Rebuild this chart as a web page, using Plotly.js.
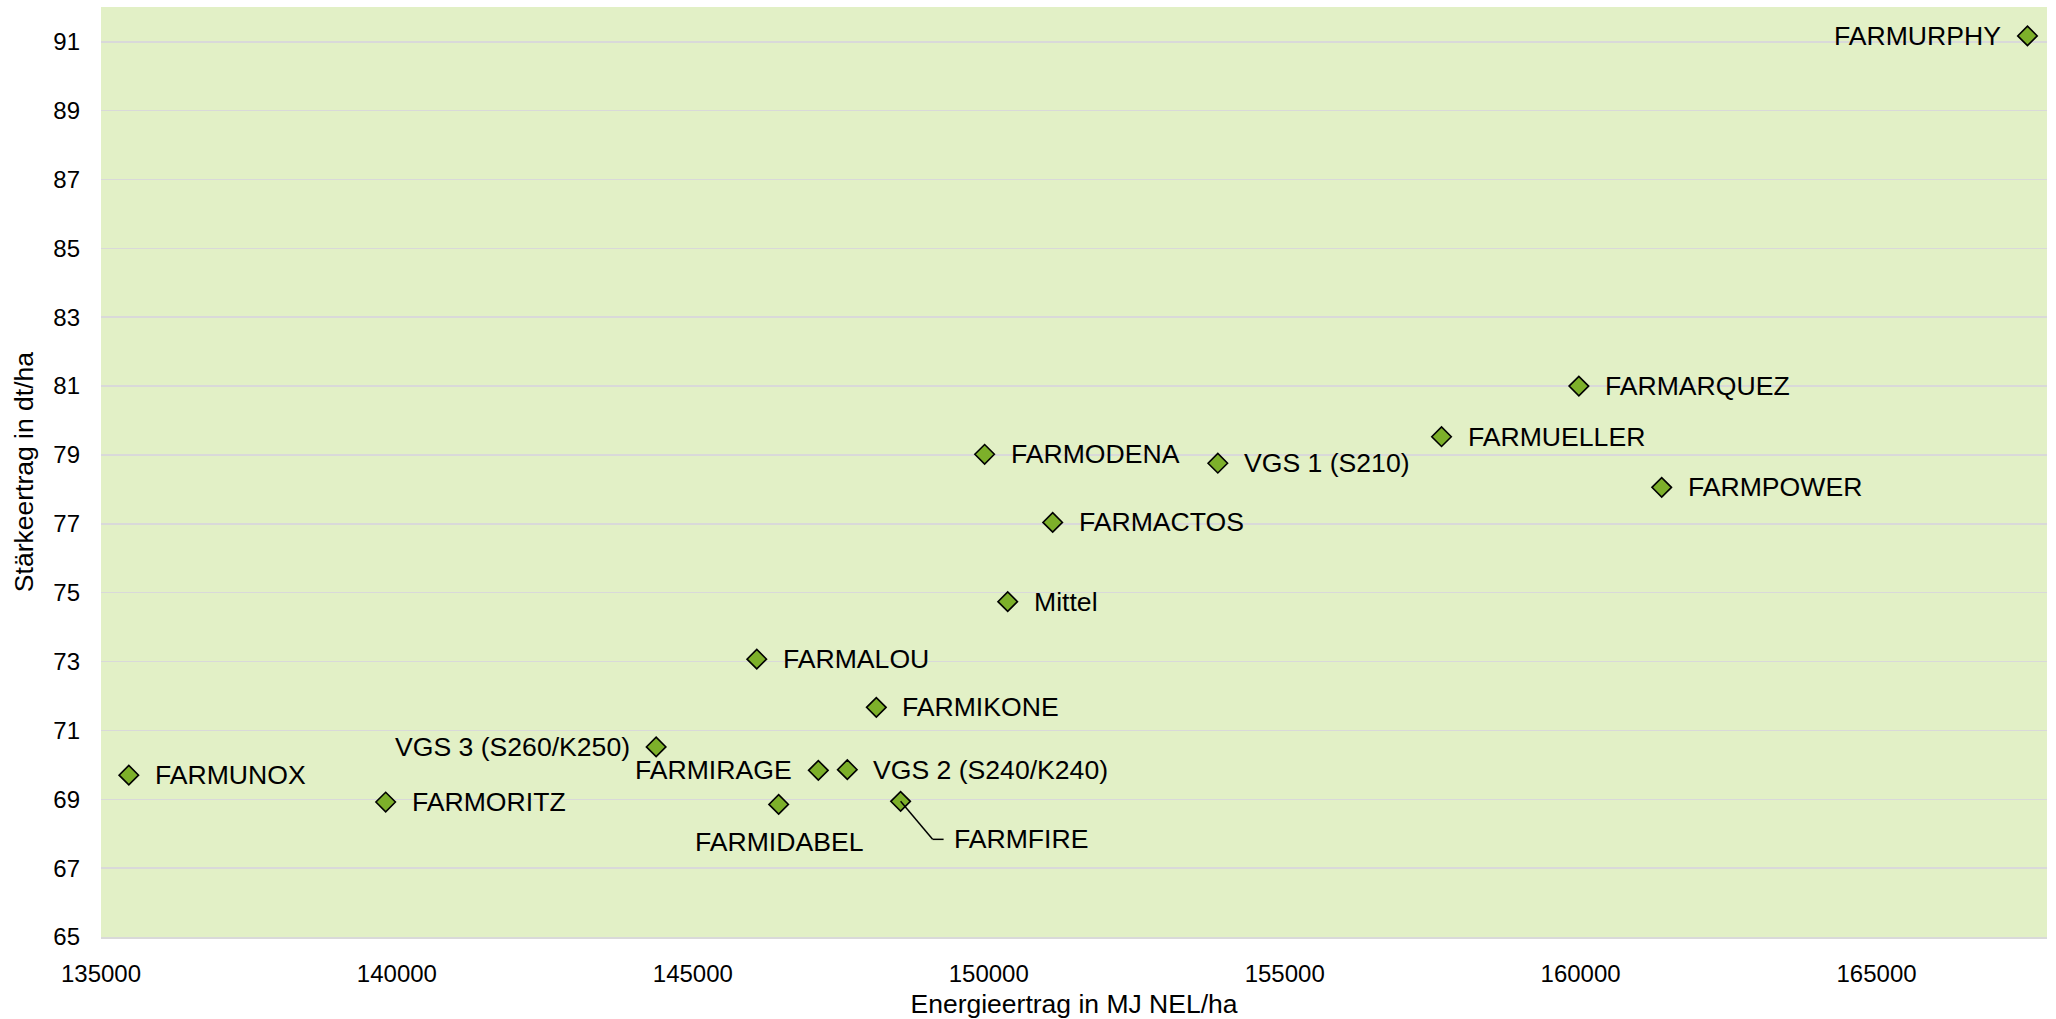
<!DOCTYPE html>
<html>
<head>
<meta charset="utf-8">
<script src="https://cdn.plot.ly/plotly-3.0.1.min.js"></script>
<style>html,body{margin:0;padding:0;background:#fff;}#chart{width:2056px;height:1019px;}</style>
</head>
<body>
<div id="chart"></div>
<script>
// ---- data ----
const sorten = ['FARMUNOX','FARMORITZ','VGS 3 (S260/K250)','FARMIDABEL','FARMIRAGE','VGS 2 (S240/K240)','FARMALOU','FARMIKONE','FARMFIRE','FARMODENA','Mittel','FARMACTOS','VGS 1 (S210)','FARMUELLER','FARMARQUEZ','FARMPOWER','FARMURPHY'];
const energieertrag = [135470,139810,144380,146450,147120,147610,146080,148100,148510,149930,150320,151080,153870,157650,159970,161370,167550];
const staerkeertrag = [69.70,68.92,70.52,68.85,69.84,69.86,73.07,71.67,68.94,79.02,74.74,77.04,78.76,79.53,81.00,78.06,91.17];
// label placement (style only)
const labelPlacement = ['right','right','left','below','left','right','right','right','leader','right','right','right','right','right','right','right','left'];
const yTicks = [65,67,69,71,73,75,77,79,81,83,85,87,89,91];
const xTicks = [135000,140000,145000,150000,155000,160000,165000];

const FONT = '"Liberation Sans", Arial, sans-serif';
const labelFont = {family: FONT, size: 26.6, color: '#000'};

const annotations = [];
const shapes = [];
sorten.forEach((name, i) => {
  const a = {x: energieertrag[i], y: staerkeertrag[i], xref: 'x', yref: 'y', text: name, showarrow: false, font: labelFont, yanchor: 'middle'};
  const p = labelPlacement[i];
  if (p === 'right') { a.xanchor = 'left'; a.xshift = 24; }
  else if (p === 'left') { a.xanchor = 'right'; a.xshift = -24; }
  else if (p === 'below') { a.xanchor = 'center'; a.yshift = -38; }
  else if (p === 'leader') {
    a.xanchor = 'left'; a.xshift = 51; a.yshift = -38;
    shapes.push({type: 'line', xref: 'x', yref: 'y', xsizemode: 'pixel', ysizemode: 'pixel',
      xanchor: energieertrag[i], yanchor: staerkeertrag[i], x0: 0, y0: 0, x1: 32, y1: -38,
      line: {color: '#000', width: 1.5}, layer: 'above'});
    shapes.push({type: 'line', xref: 'x', yref: 'y', xsizemode: 'pixel', ysizemode: 'pixel',
      xanchor: energieertrag[i], yanchor: staerkeertrag[i], x0: 32, y0: -38, x1: 43, y1: -38,
      line: {color: '#000', width: 1.5}, layer: 'above'});
  }
  annotations.push(a);
});

// y axis title as rotated annotation
annotations.push({xref: 'paper', yref: 'paper', x: -0.0395, y: 0.5, text: 'Stärkeertrag in dt/ha', textangle: -90,
  showarrow: false, xanchor: 'center', yanchor: 'middle', font: {family: FONT, size: 26.5, color: '#000'}});

const trace = {
  type: 'scatter', mode: 'markers',
  x: energieertrag, y: staerkeertrag,
  marker: {symbol: 'diamond', size: 15, color: '#7DB02A', line: {color: '#000', width: 1.6}},
  hoverinfo: 'x+y', cliponaxis: false
};

const layout = {
  width: 2056, height: 1019,
  margin: {l: 101, r: 9, t: 7, b: 82, pad: 0},
  paper_bgcolor: '#ffffff', plot_bgcolor: '#E2F0C6',
  showlegend: false,
  font: {family: FONT, color: '#000'},
  xaxis: {
    range: [135000, 167880], tickvals: xTicks, ticktext: xTicks.map(String),
    showgrid: false, zeroline: false, showline: true, linecolor: '#d9d9d9', linewidth: 1.5,
    ticks: '', ticklabelstandoff: 15,
    tickfont: {family: FONT, size: 24, color: '#000'},
    title: {text: 'Energieertrag in MJ NEL/ha', font: {family: FONT, size: 26.5, color: '#000'}, standoff: 11}
  },
  yaxis: {
    range: [65, 92.01], tickvals: yTicks, ticktext: yTicks.map(String),
    showgrid: true, gridcolor: '#d9d9d9', gridwidth: 1.5, zeroline: false, showline: false,
    ticks: '', ticklabelstandoff: 20,
    tickfont: {family: FONT, size: 24, color: '#000'}
  },
  annotations: annotations,
  shapes: shapes
};

Plotly.newPlot('chart', [trace], layout, {displayModeBar: false, staticPlot: true});
</script>
</body>
</html>
